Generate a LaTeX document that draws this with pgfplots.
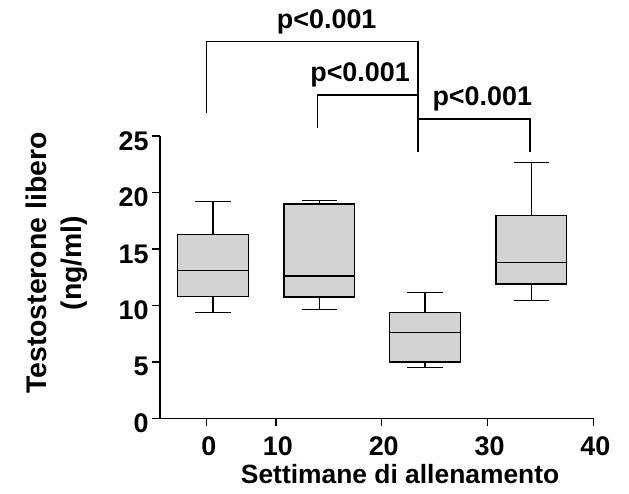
\documentclass[border=0pt]{standalone}
\usepackage{fontspec}
\setmainfont{Liberation Sans}
\usepackage{pgfplots}
\pgfplotsset{compat=1.18}
\usepgfplotslibrary{statistics}
\definecolor{boxfill}{HTML}{D3D3D3}

\begin{document}
\begin{tikzpicture}
\begin{axis}[
  x=10.58bp, y=11.29bp,
  xmin=-0.95, xmax=40, ymin=0, ymax=25,
  axis x line*=bottom, axis y line*=left,
  axis line style={line width=1.3bp,black},
  xtick={3.46,10,20,30,40}, xticklabels={0,10,20,30,40},
  ytick={0,5,...,25},
  tick align=outside, major tick length=8bp,
  tick style={line width=1.3bp,black},
  tick label style={font=\bfseries\fontsize{27}{30}\selectfont},
  xticklabel style={yshift=-7bp,xshift=2bp},
  yticklabel style={yshift=-5bp},
  /pgf/number format/assume math mode=true,
  xlabel={Settimane di allenamento},
  ylabel={Testosterone libero\\(ng/ml)},
  xlabel style={font=\bfseries\fontsize{26.5}{30}\selectfont,at={(rel axis cs:0.554,-0.197)},anchor=center},
  ylabel style={font=\bfseries\fontsize{28.5}{35}\selectfont,align=center,at={(rel axis cs:-0.238,0.55)},anchor=center},
  clip=false,
  boxplot/draw direction=y,
  boxplot/box extend=6.68,
  boxplot/whisker extend=3.34,
]
\addplot[draw=black,fill=boxfill,line width=1.3bp,boxplot prepared={draw position=4.05,
  lower whisker=9.36,lower quartile=10.77,median=13.08,upper quartile=16.26,upper whisker=19.19}]
  coordinates {};
\addplot[draw=black,fill=boxfill,line width=1.3bp,boxplot prepared={draw position=14.1,
  lower whisker=9.62,lower quartile=10.74,median=12.60,upper quartile=18.98,upper whisker=19.27}]
  coordinates {};
\addplot[draw=black,fill=boxfill,line width=1.3bp,boxplot prepared={draw position=24.1,
  lower whisker=4.49,lower quartile=4.99,median=7.61,upper quartile=9.36,upper whisker=11.13}]
  coordinates {};
\addplot[draw=black,fill=boxfill,line width=1.3bp,boxplot prepared={draw position=34.15,
  lower whisker=10.42,lower quartile=11.89,median=13.81,upper quartile=17.95,upper whisker=22.64}]
  coordinates {};

% significance brackets
\draw[line width=1.2bp] (axis cs:3.41,27.0) -- (axis cs:3.41,33.36) -- (axis cs:23.43,33.36) -- (axis cs:23.43,23.6);
\draw[line width=1.2bp] (axis cs:13.95,25.74) -- (axis cs:13.95,28.64) -- (axis cs:23.43,28.64);
\draw[line width=1.2bp] (axis cs:23.43,26.51) -- (axis cs:34.02,26.51) -- (axis cs:34.02,23.6);
\node[font=\bfseries\fontsize{27}{30}\selectfont] at (axis cs:14.8,35.1) {p<0.001};
\node[font=\bfseries\fontsize{27}{30}\selectfont] at (axis cs:17.95,30.4) {p<0.001};
\node[font=\bfseries\fontsize{27}{30}\selectfont] at (axis cs:29.5,28.25) {p<0.001};

\path (axis cs:-16.08,-6.70) rectangle (axis cs:43.37,37.05);
\end{axis}
\end{tikzpicture}
\end{document}
